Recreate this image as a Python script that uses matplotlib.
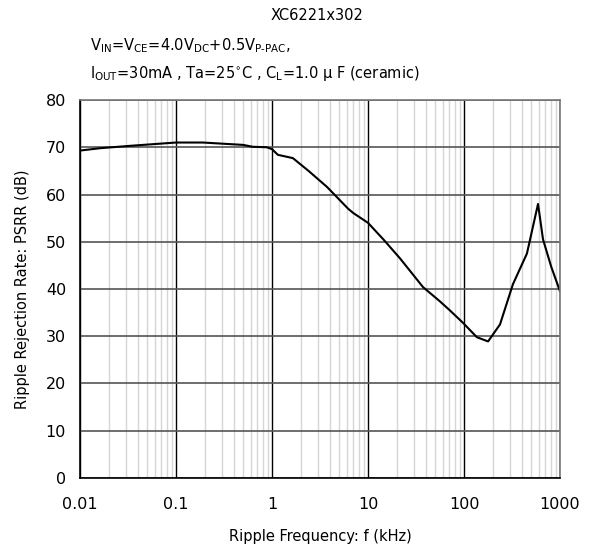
import matplotlib
matplotlib.use("Agg")
import matplotlib.pyplot as plt
from matplotlib.ticker import FixedLocator, NullFormatter, LogLocator

plt.rcParams['font.family'] = ['DejaVu Sans']
plt.rcParams['mathtext.default'] = 'regular'

freq_khz = [0.01, 0.0162, 0.0332, 0.1, 0.19, 0.5, 0.63, 0.88, 1.0, 1.15, 1.65,
            2.4, 3.74, 6.2, 7.0, 10, 14.6, 21.5, 37.4, 56, 71, 98, 136, 178,
            237, 323, 452, 590, 665, 810, 1000]
psrr_db = [69.3, 69.8, 70.3, 71.0, 71.0, 70.5, 70.1, 70.0, 69.6, 68.4, 67.7,
           65.0, 61.6, 57.0, 56.1, 54.0, 50.4, 46.5, 40.4, 37.4, 35.5, 32.8,
           29.8, 28.9, 32.5, 41.0, 47.5, 58.0, 50.5, 44.7, 39.5]

x_ticks = [0.01, 0.1, 1, 10, 100, 1000]
x_ticklabels = ["0.01", "0.1", "1", "10", "100", "1000"]
y_ticks = [0, 10, 20, 30, 40, 50, 60, 70, 80]

fig = plt.figure(figsize=(5.9, 5.51), dpi=100)
ax = fig.add_axes([0.1356, 0.1325, 0.8136, 0.686])

ax.set_xscale('log')
ax.set_xlim(0.01, 1000)
ax.set_ylim(0, 80)

ax.xaxis.set_minor_locator(LogLocator(base=10, subs=range(2, 10)))
ax.xaxis.set_minor_formatter(NullFormatter())
ax.grid(which='minor', axis='x', color='#d6d6d6', linewidth=1.0)
ax.xaxis.set_major_locator(FixedLocator(x_ticks))
ax.set_xticks(x_ticks)
ax.set_xticklabels(x_ticklabels)
ax.set_yticks(y_ticks)
ax.grid(which='major', axis='x', color='black', linewidth=1.0)
ax.grid(which='major', axis='y', color='#555555', linewidth=1.2)
ax.set_axisbelow(True)

ax.plot(freq_khz, psrr_db, color='black', linewidth=1.5)

ax.tick_params(which='both', length=0, labelsize=11.5)
ax.tick_params(axis='x', pad=14)
ax.tick_params(axis='y', pad=10)
for s in ['top', 'right']:
    ax.spines[s].set_color('#777777')
    ax.spines[s].set_linewidth(1.2)
for s in ['left', 'bottom']:
    ax.spines[s].set_color('black')
    ax.spines[s].set_linewidth(1.2)

ax.set_xlabel('Ripple Frequency: f (kHz)', fontsize=10.5, labelpad=12)
ax.set_ylabel('Ripple Rejection Rate: PSRR (dB)', fontsize=10.5, labelpad=11)

fig.text(0.537, 0.972, 'XC6221x302', ha='center', va='center', fontsize=10.5)
fig.text(0.152, 0.918, r'V$_{IN}$=V$_{CE}$=4.0V$_{DC}$+0.5V$_{P\text{-}PAC}$,',
         ha='left', va='center', fontsize=10.5)
fig.text(0.152, 0.867, r'I$_{OUT}$=30mA , Ta=25$^{\circ}$C , C$_{L}$=1.0 μ F (ceramic)',
         ha='left', va='center', fontsize=10.5)

fig.savefig('out.png', dpi=100)
